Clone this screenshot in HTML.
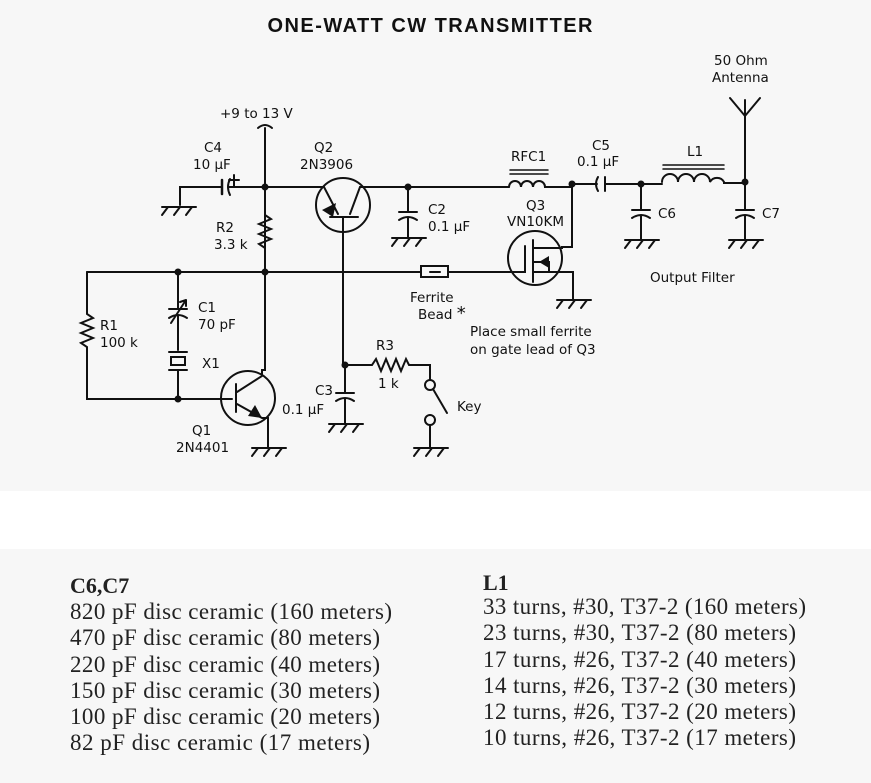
<!DOCTYPE html>
<html><head><meta charset="utf-8"><style>
html,body{margin:0;padding:0;background:#f7f7f7}
svg{display:block}
.s{font-family:"DejaVu Sans","Liberation Sans",sans-serif;font-size:13.5px;fill:#111}
.b{font-family:"Liberation Serif",serif;font-size:23px;fill:#222}
</style></head><body>
<svg width="871" height="783" viewBox="0 0 871 783" xmlns="http://www.w3.org/2000/svg">
<rect width="871" height="783" fill="#f7f7f7"/>
<rect y="491" width="871" height="58" fill="#ffffff"/>
<text x="430" y="32" text-anchor="middle" font-family="Liberation Sans,sans-serif" font-weight="bold" font-size="20" fill="#111" textLength="325">ONE-WATT CW TRANSMITTER</text>
<g stroke="#111" stroke-width="2" fill="none" stroke-linecap="round">
<path d="M258 128 Q265 122 272 128"/>
<path d="M265 128 V272"/>
<path d="M180 205 V187 H222 M228 187 H318"/>
<path d="M222 180 V194" stroke-width="2.5"/>
<path d="M230 179 Q226 187 230 195"/>
<path d="M234 175 V186 M229 180 H239"/>
<path d="M162 207 H196 M162 215 L168 207 M174 215 L180 207 M186 215 L192 207"/>
<path d="M265 215 L271 219 L259 224 L271 229 L259 234 L271 239 L259 244 L265 248"/>
<circle cx="343" cy="205" r="27"/>
<path d="M330 217 H358"/>
<path d="M318 187 H324 L338 214"/>
<path d="M366 187 H360 L350 214"/>
<path d="M343 217 V365"/>
<path d="M366 187 H500"/>
<path d="M408 187 V212 M399 212 H417 M399 220 Q408 214 417 220 M408 217 V238"/>
<path d="M392 238 H426 M392 246 L398 238 M404 246 L410 238 M416 246 L422 238"/>
<path d="M87 272 H421 M448 272 H505"/>
<rect x="421" y="266" width="27" height="11"/>
<path d="M430 272 H440"/>
<path d="M87 272 V314 L93 318 L81 323 L93 328 L81 333 L93 338 L81 343 L87 347 V399 H232"/>
<path d="M178 272 V309 M169 309 H187 M169 318 Q178 312 187 318 M178 315 V350"/>
<path d="M171 323 L186 300 M186 300 L180 302 M186 300 L186 306"/>
<path d="M169 352 H187 M169 370 H187"/>
<rect x="171" y="357" width="14" height="8"/>
<path d="M178 370 V399"/>
<circle cx="248" cy="398" r="27"/>
<path d="M236 384 V412"/>
<path d="M237 392 L262 376 V370 H265 V272"/>
<path d="M237 404 L262 418 H268 V448"/>
<path d="M252 448 H286 M252 456 L258 448 M264 456 L270 448 M276 456 L282 448"/>
<path d="M345 365 V393 M336 393 H354 M336 401 Q345 395 354 401 M345 398 V424"/>
<path d="M329 424 H363 M329 432 L335 424 M341 432 L347 424 M353 432 L359 424"/>
<path d="M345 365 H372 L376 359 L381 371 L386 359 L391 371 L396 359 L401 371 L406 359 L409 365 H430 V380"/>
<circle cx="430" cy="385" r="5" fill="#f7f7f7"/>
<path d="M433 389 L447 413"/>
<circle cx="430" cy="420" r="5" fill="#f7f7f7"/>
<path d="M430 425 V448 M414 448 H448 M414 456 L420 448 M426 456 L432 448 M438 456 L444 448"/>
<path d="M500 187 H509"/>
<path d="M509 187 A6 6 0 0 1 521 187 A6 6 0 0 1 533 187 A6 6 0 0 1 545 187 H572"/>
<path d="M510 170 H548 M510 174 H548" stroke-width="1.5"/>
<circle cx="535" cy="258" r="27"/>
<path d="M525 246 V272 H505"/>
<path d="M533 240 V282"/>
<path d="M533 248 H562 V247 H572 V187"/>
<path d="M533 262 H549 V272"/>
<path d="M533 272 H573 V300"/>
<path d="M557 300 H591 M557 308 L563 300 M569 308 L575 300 M581 308 L587 300"/>
<path d="M572 184 H597 M598 177 Q594 184 598 191 M605 177 V191 M605 184 H662" stroke-width="2"/>
<path d="M641 184 V210 M632 210 H650 M632 218 Q641 212 650 218 M641 215 V240"/>
<path d="M625 240 H659 M625 248 L631 240 M637 248 L643 240 M649 248 L655 240"/>
<path d="M662 182 A8 8 0 0 1 678 182 A8 8 0 0 1 694 182 A8 8 0 0 1 710 182 A8 8 0 0 1 724 182 V183 H745"/>
<path d="M663 165 H724 M663 169 H724" stroke-width="1.5"/>
<path d="M745 100 V210 M730 98 L745 116 L760 98"/>
<path d="M736 210 H754 M736 218 Q745 212 754 218 M745 215 V240"/>
<path d="M729 240 H763 M729 248 L735 240 M741 248 L747 240 M753 248 L759 240"/>
</g>
<g fill="#111">
<circle cx="265" cy="187" r="3.5"/><circle cx="408" cy="187" r="3.5"/>
<circle cx="178" cy="272" r="3.5"/><circle cx="265" cy="272" r="3.5"/>
<circle cx="178" cy="399" r="3.5"/><circle cx="345" cy="365" r="3.5"/>
<circle cx="572" cy="184" r="3.5"/><circle cx="641" cy="184" r="3.5"/><circle cx="745" cy="182" r="3.5"/>
<path d="M322 210 L336 203 L333 217 Z"/>
<path d="M262 418 L248 416 L255 405 Z"/>
<path d="M539 262 L549 256 L549 268 Z"/>
</g>
<g class="s">
<text x="220" y="118">+9 to 13 V</text>
<text x="204" y="152">C4</text><text x="193" y="169">10 μF</text>
<text x="314" y="152">Q2</text><text x="300" y="169">2N3906</text>
<text x="216" y="232">R2</text><text x="214" y="249">3.3 k</text>
<text x="428" y="214">C2</text><text x="428" y="231">0.1 μF</text>
<text x="511" y="161">RFC1</text>
<text x="592" y="150">C5</text><text x="577" y="166">0.1 μF</text>
<text x="687" y="156">L1</text>
<text x="714" y="65">50 Ohm</text><text x="712" y="82">Antenna</text>
<text x="526" y="210">Q3</text><text x="507" y="226">VN10KM</text>
<text x="658" y="218">C6</text><text x="762" y="218">C7</text>
<text x="650" y="282">Output Filter</text>
<text x="410" y="302">Ferrite</text><text x="418" y="319">Bead <tspan font-size="18">*</tspan></text>
<text x="470" y="336">Place small ferrite</text><text x="470" y="354">on gate lead of Q3</text>
<text x="198" y="312">C1</text><text x="198" y="329">70 pF</text>
<text x="100" y="330">R1</text><text x="100" y="347">100 k</text>
<text x="202" y="368">X1</text>
<text x="376" y="350">R3</text><text x="378" y="388">1 k</text>
<text x="315" y="395">C3</text><text x="282" y="414">0.1 μF</text>
<text x="457" y="411">Key</text>
<text x="192" y="435">Q1</text><text x="176" y="452">2N4401</text>
</g>
<g class="b">
<text x="70" y="593" font-weight="bold" font-size="22">C6,C7</text>
<text x="70" y="619" textLength="322">820 pF disc ceramic (160 meters)</text>
<text x="70" y="645" textLength="310">470 pF disc ceramic (80 meters)</text>
<text x="70" y="672" textLength="310">220 pF disc ceramic (40 meters)</text>
<text x="70" y="698" textLength="310">150 pF disc ceramic (30 meters)</text>
<text x="70" y="724" textLength="310">100 pF disc ceramic (20 meters)</text>
<text x="70" y="750" textLength="300">82 pF disc ceramic (17 meters)</text>
<text x="483" y="590" font-weight="bold" font-size="22">L1</text>
<text x="483" y="614" textLength="323">33 turns, #30, T37-2 (160 meters)</text>
<text x="483" y="640" textLength="313">23 turns, #30, T37-2 (80 meters)</text>
<text x="483" y="667" textLength="313">17 turns, #26, T37-2 (40 meters)</text>
<text x="483" y="693" textLength="313">14 turns, #26, T37-2 (30 meters)</text>
<text x="483" y="719" textLength="313">12 turns, #26, T37-2 (20 meters)</text>
<text x="483" y="745" textLength="313">10 turns, #26, T37-2 (17 meters)</text>
</g>
</svg>
</body></html>
